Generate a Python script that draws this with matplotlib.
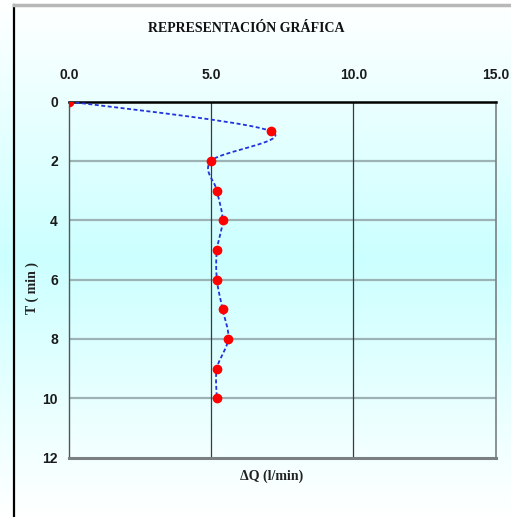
import numpy as np
import matplotlib
matplotlib.use("Agg")
import matplotlib.pyplot as plt
from matplotlib.lines import Line2D

# ---- data ----
T = [0, 1, 2, 3, 4, 5, 6, 7, 8, 9, 10]
dQ = [0.0, 7.1, 5.0, 5.2, 5.4, 5.2, 5.2, 5.4, 5.6, 5.2, 5.2]
x_ticks = [0.0, 5.0, 10.0, 15.0]
x_tick_labels = ["0.0", "5.0", "10.0", "15.0"]
y_ticks = [0, 2, 4, 6, 8, 10, 12]
title = "REPRESENTACIÓN GRÁFICA"
xlabel = "ΔQ (l/min)"
ylabel = "T ( min )"


def smooth(xs, ys, n=20):
    # Catmull-Rom style smoothing (like spreadsheet "smoothed line")
    P = np.column_stack([xs, ys]).astype(float)
    P = np.vstack([P[0], P, P[-1]])
    out = []
    for i in range(1, len(P) - 2):
        p0, p1, p2, p3 = P[i - 1], P[i], P[i + 1], P[i + 2]
        t = np.linspace(0, 1, n, endpoint=False)[:, None]
        seg = 0.5 * ((2 * p1) + (-p0 + p2) * t + (2 * p0 - 5 * p1 + 4 * p2 - p3) * t ** 2
                     + (-p0 + 3 * p1 - 3 * p2 + p3) * t ** 3)
        out.append(seg)
    out.append(P[-2][None, :])
    out = np.vstack(out)
    return out[:, 0], out[:, 1]


W, H = 511, 517
fig = plt.figure(figsize=(W / 100, H / 100), dpi=100)

# gradient background
bg = fig.add_axes([0, 0, 1, 1], zorder=-10)
bg.set_axis_off()
yy = np.linspace(0, 1, 256)
v = np.clip(1 - np.abs((yy - 0.5) / 0.5), 0, 1)
white = np.array([1.0, 1.0, 1.0])
cyan = np.array([0.80, 1.0, 1.0])
grad = white[None, :] * (1 - v[:, None]) + cyan[None, :] * v[:, None]
bg.imshow(grad[:, None, :], aspect="auto", extent=[0, 1, 0, 1], origin="upper")
bg.set_xlim(0, 1)
bg.set_ylim(0, 1)

# outer border
fig.add_artist(Line2D([14 / W, 14 / W], [0, 1 - 5 / H], color="black", lw=1.6, transform=fig.transFigure))
fig.add_artist(Line2D([14 / W, 1], [1 - 5 / H, 1 - 5 / H], color="#B8B8B8", lw=2.5, transform=fig.transFigure))

ax = fig.add_axes([69 / W, 1 - 457.5 / H, (495.5 - 69) / W, (457.5 - 101.5) / H])
ax.patch.set_alpha(0)

sx, sy = smooth(dQ, T)
ax.plot(sx, sy, color="#2233DD", lw=1.3, linestyle=(0, (2.2, 1.4)), zorder=3)
ax.plot(dQ, T, linestyle="none", marker="o", color="#FF0000", markersize=6, zorder=4)

ax.set_xlim(0, 15)
ax.set_ylim(12, 0)
ax.xaxis.tick_top()
ax.set_xticks(x_ticks)
ax.set_xticklabels(x_tick_labels)
ax.set_yticks(y_ticks)
ax.tick_params(length=0, labelsize=10, pad=8)
ax.tick_params(axis="x", pad=14)
for lab in ax.get_xticklabels() + ax.get_yticklabels():
    lab.set_fontfamily("Liberation Sans")
    lab.set_fontweight("bold")
    lab.set_color("#1A1A1A")

# grid
for yv in y_ticks[1:-1]:
    ax.axhline(yv, color="#9DB2B4", lw=1.6, zorder=1)
for xv in x_ticks[1:-1]:
    ax.axvline(xv, color="#3A3A3A", lw=0.9, zorder=1)

ax.spines["top"].set_color("black")
ax.spines["top"].set_linewidth(1.8)
ax.spines["left"].set_color("#555555")
ax.spines["left"].set_linewidth(1.0)
ax.spines["bottom"].set_color("#7A7F80")
ax.spines["bottom"].set_linewidth(2.2)
ax.spines["right"].set_color("#7A7F80")
ax.spines["right"].set_linewidth(1.2)

fig.text(246 / W, 1 - 28 / H, title, ha="center", va="center",
         fontfamily="Liberation Serif", fontsize=10, fontweight="bold", color="#111111")
fig.text(272 / W, 1 - 476 / H, xlabel, ha="center", va="center",
         fontfamily="Liberation Serif", fontsize=10, fontweight="bold", color="#222222")
fig.text(32 / W, 1 - 288 / H, ylabel, ha="center", va="center", rotation=90,
         fontfamily="Liberation Serif", fontsize=10, fontweight="bold", color="#222222")

fig.savefig("out.png", dpi=100)
